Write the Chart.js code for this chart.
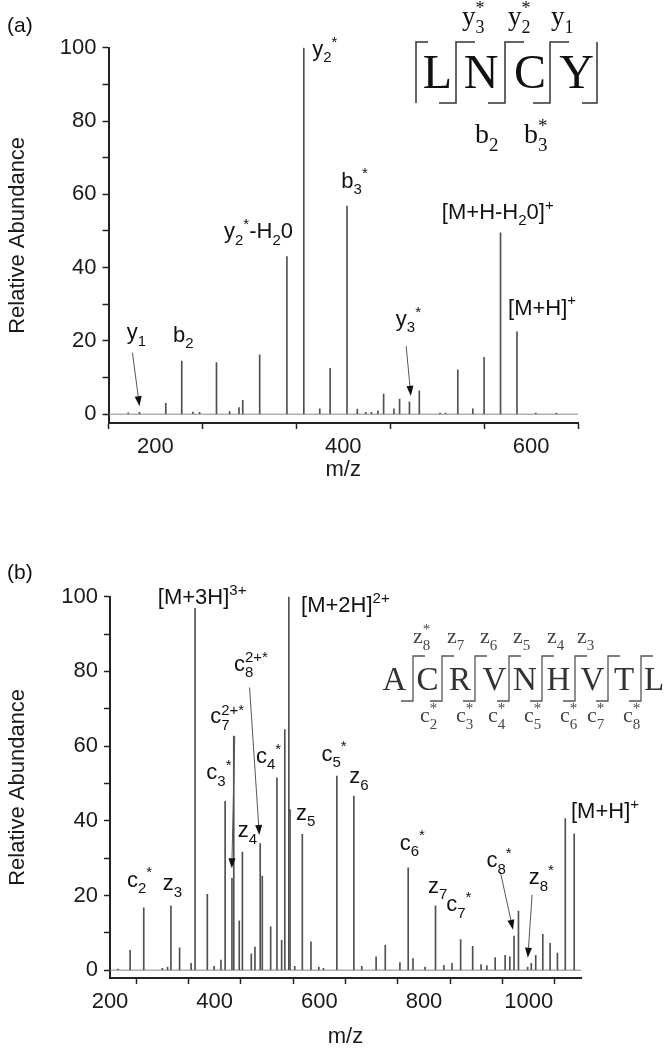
<!DOCTYPE html>
<html>
<head>
<meta charset="utf-8">
<script src="https://cdn.jsdelivr.net/npm/chart.js@4.4.1/dist/chart.umd.min.js"></script>
<style>
  body { margin: 0; background: #fff; }
  #wrap { position: relative; width: 665px; height: 1050px; }
  canvas { position: absolute; left: 0; }
  #specA { top: 0; }
  #specB { top: 525px; }
</style>
</head>
<body>
<div id="wrap">
  <canvas id="specA" width="665" height="525"></canvas>
  <canvas id="specB" width="665" height="525"></canvas>
</div>
<script>
// ---- (a) LNCY spectrum ----
const mzA = [171, 183, 211, 228, 240, 247, 265, 279, 289, 293, 311, 340, 358, 375, 386, 404, 415, 424, 430, 437, 443, 454, 460, 470.5, 481, 503, 509, 522, 538, 550, 567.5, 585, 605, 627];
const intA = [0.4, 0.5, 3.0, 14.5, 0.6, 0.5, 14.1, 0.7, 1.8, 3.8, 16.2, 43, 100, 1.5, 12.5, 56.8, 1.4, 0.5, 0.5, 0.9, 5.5, 1.5, 4.1, 3.4, 6.4, 0.3, 0.3, 12.1, 1.5, 15.5, 49.5, 22.5, 0.3, 0.3];
const xRangeA = [150, 650];
const xTicksA = [200, 300, 400, 500, 600];
const xLabelsA = [200, 400, 600];

// ---- (b) ACRVNHVTL spectrum ----
const mzB = [215, 238.5, 264.5, 300, 310, 316.4, 333, 355, 362.5, 386, 399, 412, 420, 433, 436.5, 447, 453, 470, 477, 487, 491, 507, 519, 528, 534, 541.7, 544, 553, 567.5, 584, 599, 608, 633.5, 666, 681, 708.5, 726, 754, 769.8, 779, 802, 822, 838, 853.5, 870, 893, 909, 920, 936, 955, 964, 972, 980.5, 998, 1005, 1013.5, 1027, 1041, 1055, 1070, 1087];
const intB = [0.3, 5.3, 16.7, 0.5, 0.8, 17.2, 6.0, 1.8, 96.9, 20.3, 1, 2.7, 45.2, 24.6, 62.7, 13.2, 31.6, 4.4, 6.2, 33.9, 25.2, 11.6, 51.5, 8, 64.4, 100, 43, 1, 36.4, 7.6, 0.8, 0.5, 52, 46.6, 1, 3.6, 6.7, 2, 27.4, 3.1, 0.8, 17.2, 1.3, 1.8, 8.2, 6.4, 1.5, 1.2, 3.4, 4, 3.6, 9.1, 15.8, 0.8, 1.8, 4, 9.6, 7.2, 4.6, 40.6, 36.5];
const xRangeB = [200, 1100];
const xTicksB = [200, 300, 400, 500, 600, 700, 800, 900, 1000, 1100];
const xLabelsB = [200, 400, 600, 800, 1000];

const yTicks = [0, 10, 20, 30, 40, 50, 60, 70, 80, 90, 100];
const yLabels = [0, 20, 40, 60, 80, 100];

// peak labels: text (_ sub, ^ sup, ~ sup stacked over sub), m/z, abundance of baseline
const peakLabelsA = [
  ["y_1", 169.5, 20.5],
  ["b_2", 218.6, 19.8],
  ["y_2^*-H_20", 273, 48],
  ["y_2^*", 367, 97.8],
  ["b_3^*", 398, 61.8],
  ["[M+H-H_20]^+", 505, 53.3],
  ["[M+H]^+", 575.5, 27.2],
  ["y_3^*", 456, 24.1]
];
const arrowsA = [[175.5, 16.8, 183, 2.2], [467, 18.6, 472, 5]];

const peakLabelsB = [
  ["[M+3H]^{3+}", 291.3, 98.1],
  ["[M+2H]^{2+}", 565, 95.8],
  ["c_8~{2+*}", 436.8, 80.2],
  ["c_7~{2+*}", 391.5, 66.1],
  ["c_3^*", 384, 51.1],
  ["c_4^*", 478.8, 55.5],
  ["z_4", 444, 35.6],
  ["c_5^*", 604, 56.1],
  ["z_6", 657.4, 50.1],
  ["z_5", 555.6, 40.3],
  ["[M+H]^+", 1080.8, 40.7],
  ["c_6^*", 753.5, 32.3],
  ["z_7", 807.7, 20.7],
  ["c_7^*", 842.4, 15.8],
  ["c_8^*", 919.2, 27.6],
  ["z_8^*", 1000, 23],
  ["c_2^*", 232.3, 22.4],
  ["z_3", 301, 21.4]
];
const arrowsB = [[466.7, 75.7, 485.3, 36.2], [438.4, 62.6, 432.7, 27.3], [945.9, 26.3, 970.1, 10.8], [1006.5, 20.2, 998.4, 3.3]];

// sequence cartoons (page pixels)
const seqA = ["L", "N", "C", "Y"];
const seqAX = [437.5, 481, 530, 576.5];
const seqAUp = [["y_3~*", 462], ["y_2~*", 508], ["y_1", 551]];
const seqADown = [["b_2", 475], ["b_3~*", 524]];
const seqB = ["A", "C", "R", "V", "N", "H", "V", "T", "L"];
const seqBX = [394.5, 427.5, 460, 494.5, 525, 558.5, 592.5, 624, 654];
const seqBCuts = [413, 442, 475, 509, 542, 575, 608, 641];
const seqBUp = [["z_8~*", 413], ["z_7", 447], ["z_6", 480], ["z_5", 513], ["z_4", 547], ["z_3", 577]];
const seqBDown = [["c_2~*", 420], ["c_3~*", 456], ["c_4~*", 488], ["c_5~*", 524], ["c_6~*", 560], ["c_7~*", 587], ["c_8~*", 623]];

const SANS = '"Liberation Sans", Arial, sans-serif';
const SERIF = '"Liberation Serif", "Times New Roman", serif';
const INK = "#1a1a1a";

const parseRich = (str) => {
  const out = [];
  let i = 0;
  while (i < str.length) {
    const ch = str[i];
    if (ch === "_" || ch === "^" || ch === "~") {
      let t;
      if (str[i + 1] === "{") {
        const j = str.indexOf("}", i);
        t = str.slice(i + 2, j);
        i = j + 1;
      } else {
        t = str[i + 1];
        i += 2;
      }
      out.push([t, ch]);
    } else {
      let j = i;
      while (j < str.length && !"_^~".includes(str[j])) j++;
      out.push([str.slice(i, j), ""]);
      i = j;
    }
  }
  return out;
};

const drawRich = (ctx, str, x, y, size, family) => {
  let cx = x, subStart = x, subEnd = x;
  parseRich(str).forEach(([t, k]) => {
    const s = k ? Math.round(size * 0.68) : size;
    ctx.font = `${s}px ${family}`;
    const w = ctx.measureText(t).width;
    if (k === "~") {
      ctx.fillText(t, subStart, y - size * 0.4);
      cx = Math.max(subEnd, subStart + w);
      return;
    }
    const dy = k === "_" ? size * 0.3 : k === "^" ? -size * 0.42 : 0;
    if (k === "_") { subStart = cx; subEnd = cx + w; }
    ctx.fillText(t, cx, y + dy);
    cx += w;
  });
};

const drawArrow = (ctx, x1, y1, x2, y2) => {
  const a = Math.atan2(y2 - y1, x2 - x1);
  const L = 10, H = 3.5;
  ctx.strokeStyle = "#555";
  ctx.lineWidth = 1;
  ctx.beginPath();
  ctx.moveTo(x1, y1);
  ctx.lineTo(x2 - L * Math.cos(a), y2 - L * Math.sin(a));
  ctx.stroke();
  ctx.fillStyle = "#111";
  ctx.beginPath();
  ctx.moveTo(x2, y2);
  ctx.lineTo(x2 - L * Math.cos(a) + H * Math.sin(a), y2 - L * Math.sin(a) - H * Math.cos(a));
  ctx.lineTo(x2 - L * Math.cos(a) - H * Math.sin(a), y2 - L * Math.sin(a) + H * Math.cos(a));
  ctx.closePath();
  ctx.fill();
};

const drawSeqA = (ctx) => {
  ctx.fillStyle = "#111";
  ctx.textAlign = "center";
  ctx.font = `48px ${SERIF}`;
  seqA.forEach((r, i) => ctx.fillText(r, seqAX[i], 88));
  ctx.strokeStyle = "#333";
  ctx.lineWidth = 1.5;
  ctx.beginPath();
  ctx.moveTo(428, 42); ctx.lineTo(416, 42); ctx.lineTo(416, 103);
  [456, 505, 550].forEach((c) => {
    ctx.moveTo(c - 17, 103); ctx.lineTo(c, 103); ctx.lineTo(c, 42); ctx.lineTo(c + 19, 42);
  });
  ctx.moveTo(582, 103); ctx.lineTo(597, 103); ctx.lineTo(597, 42);
  ctx.stroke();
  ctx.textAlign = "left";
  seqAUp.forEach(([t, x]) => drawRich(ctx, t, x, 25, 27, SERIF));
  seqADown.forEach(([t, x]) => drawRich(ctx, t, x, 143, 28, SERIF));
};

const drawSeqB = (ctx) => {
  const o = 525;
  ctx.fillStyle = "#333";
  ctx.textAlign = "center";
  ctx.font = `33px ${SERIF}`;
  seqB.forEach((r, i) => ctx.fillText(r, seqBX[i], 690 - o));
  ctx.strokeStyle = "#555";
  ctx.lineWidth = 1.3;
  ctx.beginPath();
  seqBCuts.forEach((c) => {
    ctx.moveTo(c - 12, 701 - o); ctx.lineTo(c, 701 - o); ctx.lineTo(c, 656 - o); ctx.lineTo(c + 12, 656 - o);
  });
  ctx.stroke();
  ctx.textAlign = "left";
  ctx.fillStyle = "#444";
  seqBUp.forEach(([t, x]) => drawRich(ctx, t, x, 643 - o, 22, SERIF));
  seqBDown.forEach(([t, x]) => drawRich(ctx, t, x, 722 - o, 22, SERIF));
};

const decor = (labels, arrows, tag, tagY, seq) => ({
  id: "decor",
  afterDraw(chart) {
    const { ctx } = chart;
    const { x, y } = chart.scales;
    ctx.save();
    ctx.textBaseline = "alphabetic";
    ctx.textAlign = "left";
    arrows.forEach(([m1, v1, m2, v2]) =>
      drawArrow(ctx, x.getPixelForValue(m1), y.getPixelForValue(v1), x.getPixelForValue(m2), y.getPixelForValue(v2)));
    ctx.fillStyle = "#111";
    labels.forEach(([t, m, v]) => drawRich(ctx, t, x.getPixelForValue(m), y.getPixelForValue(v), 22, SANS));
    ctx.font = `21px ${SANS}`;
    ctx.fillText(tag, 7, tagY);
    seq(ctx);
    ctx.restore();
  },
});

const makeSpectrum = (canvas, mz, inten, xRange, xTicks, xLabels, area, extra) => {
  const peaks = mz.map((m, i) => ({ x: m, y: inten[i] }));
  const baseline = [{ x: xRange[0], y: 0 }, { x: xRange[1], y: 0 }];
  const tickFont = { family: SANS, size: 22 };
  return new Chart(canvas, {
    type: "bar",
    data: {
      datasets: [
        { type: "bar", data: peaks, backgroundColor: "#505050", barThickness: 1, grouped: false, order: 1 },
        { type: "line", data: baseline, borderColor: "#888", borderWidth: 1, pointRadius: 0, order: 2 },
      ],
    },
    options: {
      responsive: false,
      animation: false,
      devicePixelRatio: 1,
      layout: { padding: { top: area.top, right: 665 - area.right, bottom: 0, left: 0 } },
      plugins: { legend: { display: false }, tooltip: { enabled: false } },
      scales: {
        x: {
          type: "linear",
          offset: false,
          min: xRange[0],
          max: xRange[1],
          afterBuildTicks: (s) => { s.ticks = xTicks.map((v) => ({ value: v })); },
          afterFit: (s) => { s.height = 525 - area.bottom; },
          ticks: {
            callback: (v) => (xLabels.includes(v) ? String(v) : ""),
            font: tickFont, color: INK, padding: 5, maxRotation: 0, autoSkip: false,
          },
          grid: { drawOnChartArea: false, tickLength: 6, tickColor: "#222", tickWidth: 1.5 },
          border: { color: "#222", width: 2 },
          title: { display: true, text: "m/z", font: tickFont, color: INK, padding: { top: 0, bottom: area.titleGap } },
        },
        y: {
          min: area.yMin,
          max: 100,
          afterBuildTicks: (s) => { s.ticks = yTicks.map((v) => ({ value: v })); },
          afterFit: (s) => { s.width = area.left; },
          ticks: {
            callback: (v) => (yLabels.includes(v) ? String(v) : ""),
            font: tickFont, color: INK, padding: 6,
          },
          grid: { drawOnChartArea: false, tickLength: 6, tickColor: "#222", tickWidth: 1.5 },
          border: { color: "#222", width: 2 },
          title: { display: true, text: "Relative Abundance", font: tickFont, color: INK, padding: { top: 4.8, bottom: 0 } },
        },
      },
    },
    plugins: [extra],
  });
};

makeSpectrum(document.querySelector("#specA"), mzA, intA, xRangeA, xTicksA, xLabelsA,
  { top: 47.7, bottom: 423, left: 108.5, right: 578, yMin: -2.4, titleGap: 41.8 },
  decor(peakLabelsA, arrowsA, "(a)", 32, drawSeqA));

makeSpectrum(document.querySelector("#specB"), mzB, intB, xRangeB, xTicksB, xLabelsB,
  { top: 71.7, bottom: 453, left: 110, right: 581, yMin: -2.1, titleGap: 0 },
  decor(peakLabelsB, arrowsB, "(b)", 53.5, drawSeqB));
</script>
</body>
</html>
